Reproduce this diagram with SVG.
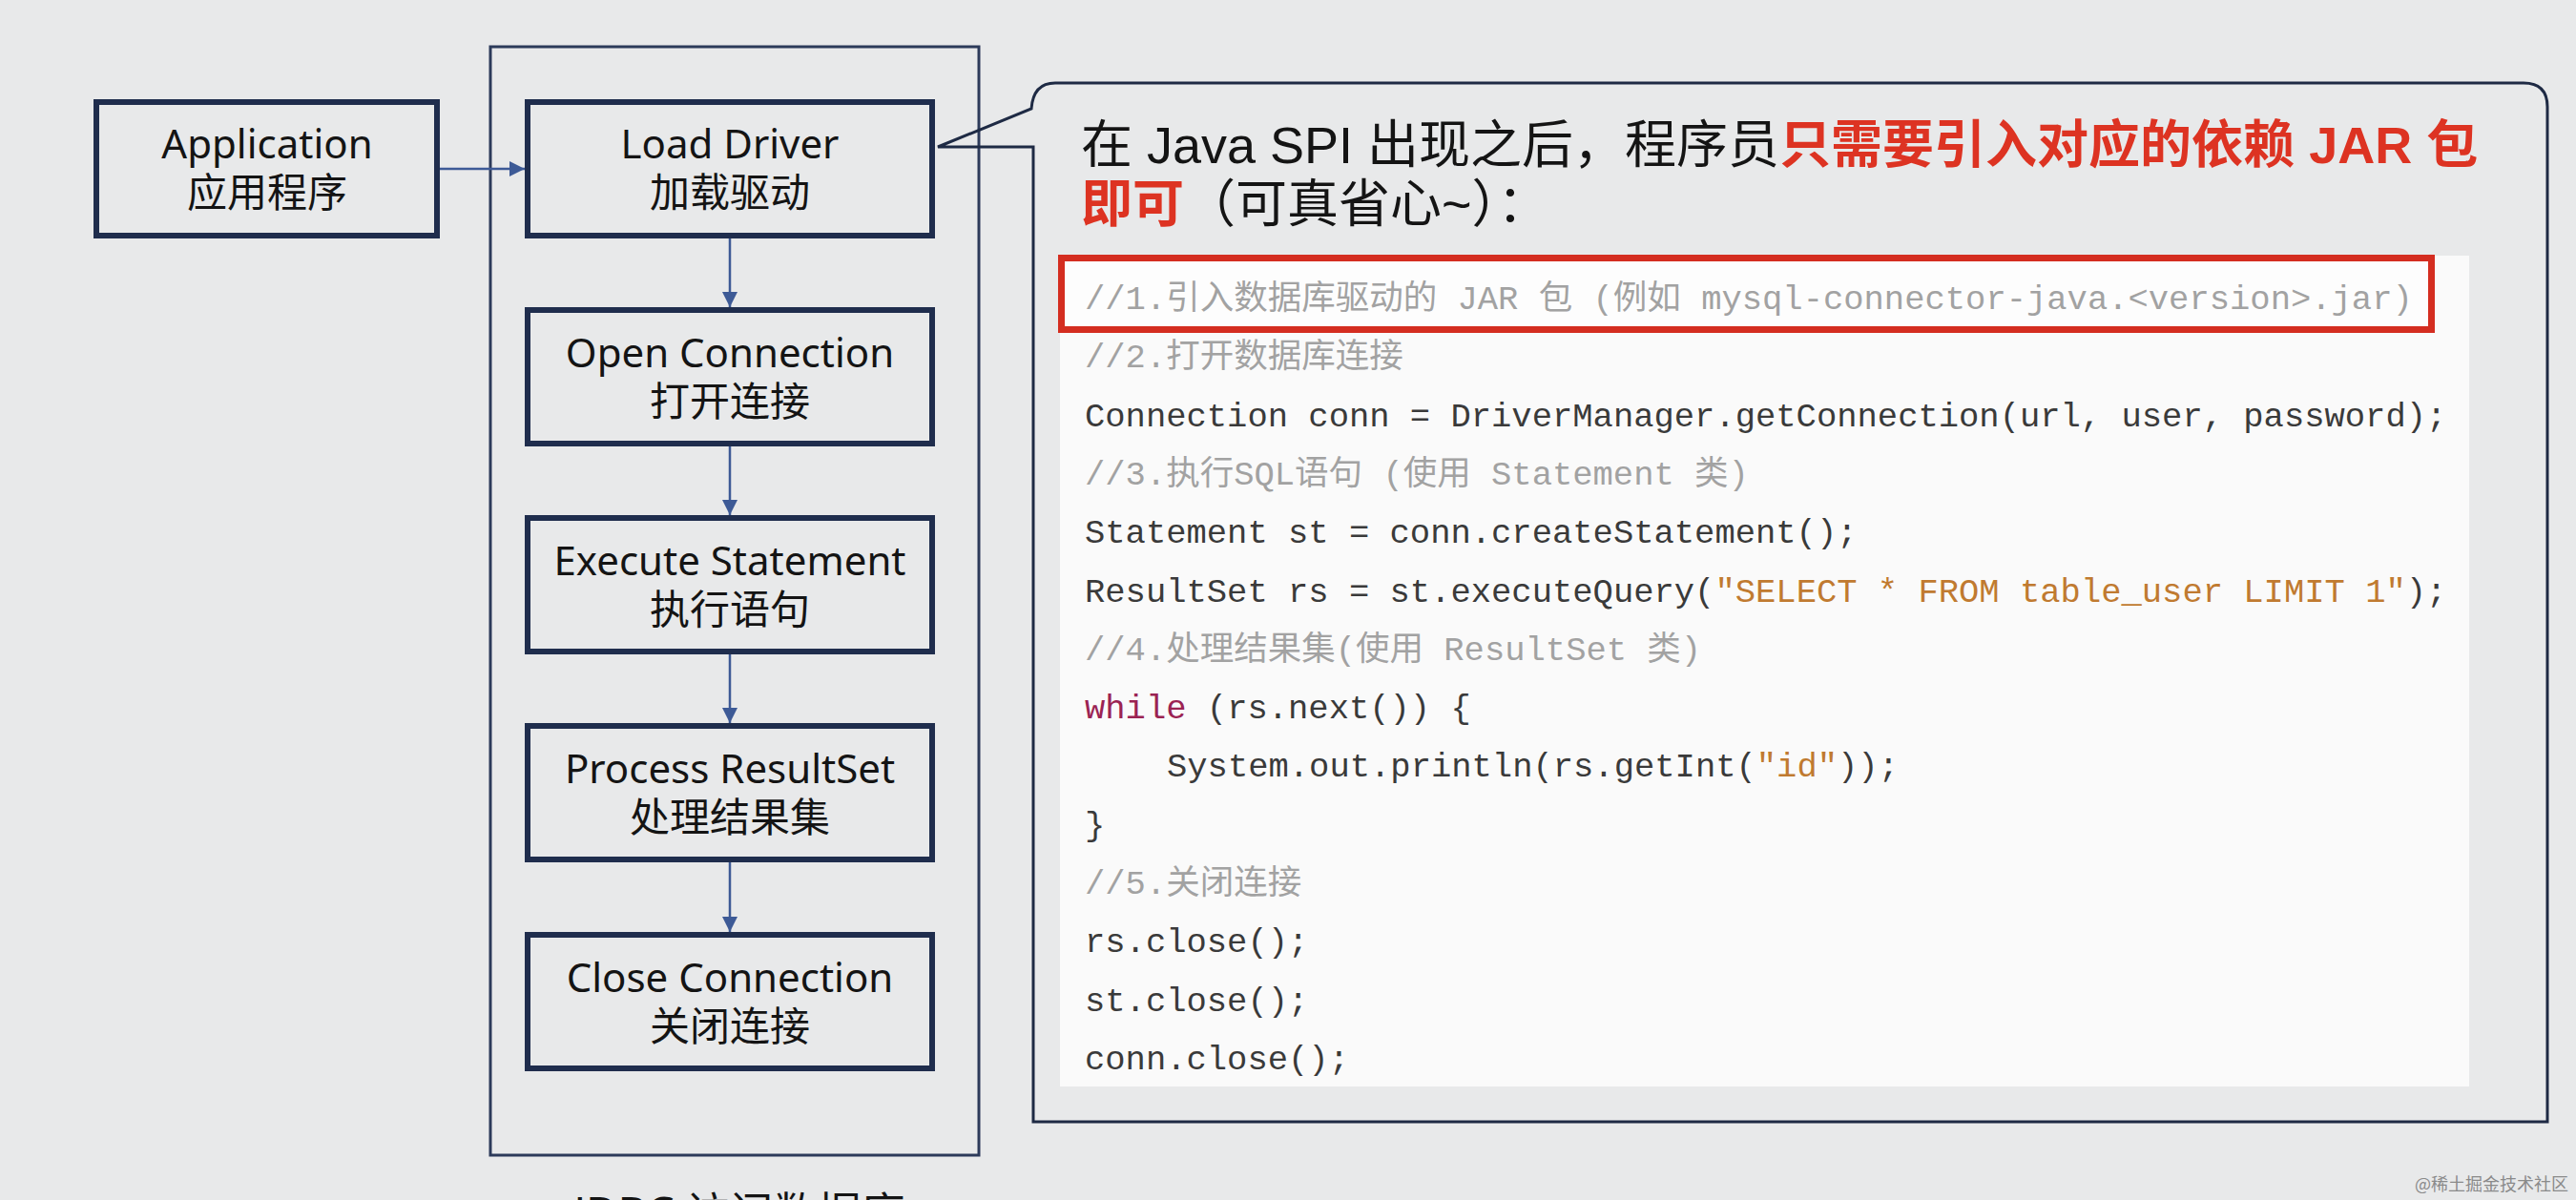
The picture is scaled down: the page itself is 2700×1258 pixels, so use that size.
<svg xmlns="http://www.w3.org/2000/svg" width="2700" height="1258" viewBox="0 0 2700 1258">
  <style>
    .node rect { fill: none; stroke: #1f2d4d; stroke-width: 6; }
    .lbl { font-family: "Noto Sans", "Noto Sans CJK SC", sans-serif; font-size: 42px; fill: #141414; text-anchor: middle; }
    .conn { stroke: #3d5a96; stroke-width: 2.5; fill: none; }
    .title { font-family: "Liberation Sans", "Noto Sans CJK SC", sans-serif; font-size: 54px; fill: #141414; }
    .hl { fill: #dd3322; font-weight: bold; }
    .code { font-family: "Liberation Mono", "Noto Sans CJK SC", monospace; font-size: 35.5px; fill: #3a3a3a; white-space: pre; }
    .cm { fill: #a2a2a2; }
    .kw { fill: #9b2353; }
    .str { fill: #c07a30; }
  </style>
  <defs>
    <marker id="arr" markerUnits="userSpaceOnUse" markerWidth="18" markerHeight="16" refX="16" refY="8" orient="auto">
      <path d="M0,0 L16,8 L0,16 Z" fill="#3d5a96"/>
    </marker>
  </defs>

  <rect x="0" y="0" width="2700" height="1258" fill="#e8e9ea"/>

  <!-- container -->
  <g id="jdbc-container">
    <rect x="514" y="49" width="512" height="1162" fill="none" stroke="#2c3a5a" stroke-width="3"/>
    <text class="lbl" x="775" y="1288" style="font-size:46px">JDBC 访问数据库</text>
  </g>

  <!-- callout -->
  <g id="callout">
    <path d="M1083,154 L983,154 L1081,114 Q1083,87 1106,87 L2645,87 Q2670,87 2670,112 L2670,1176 L1083,1176 Z" fill="none" stroke="#1e2a44" stroke-width="3" stroke-linejoin="miter"/>
    <text class="title" x="1133" y="171">在 Java SPI 出现之后，程序员<tspan class="hl">只需要引入对应的依赖 JAR 包</tspan></text>
    <text class="title" x="1133" y="233"><tspan class="hl">即可</tspan>（可真省心~）：</text>
    <rect x="1111" y="268" width="1477" height="871" fill="#fafafa"/>
    <rect x="1112.5" y="270.5" width="1436" height="75" fill="#fdfdfd" stroke="#d42d20" stroke-width="7"/>
    <text class="code cm" x="1137" y="324">//1.引入数据库驱动的 JAR 包 (例如 mysql-connector-java.&lt;version&gt;.jar)</text>
    <text class="code cm" x="1137" y="385">//2.打开数据库连接</text>
    <text class="code" x="1137" y="447">Connection conn = DriverManager.getConnection(url, user, password);</text>
    <text class="code cm" x="1137" y="508">//3.执行SQL语句 (使用 Statement 类)</text>
    <text class="code" x="1137" y="569">Statement st = conn.createStatement();</text>
    <text class="code" x="1137" y="631">ResultSet rs = st.executeQuery(<tspan class="str">"SELECT * FROM table_user LIMIT 1"</tspan>);</text>
    <text class="code cm" x="1137" y="692">//4.处理结果集(使用 ResultSet 类)</text>
    <text class="code" x="1137" y="753"><tspan class="kw">while</tspan> (rs.next()) {</text>
    <text class="code" x="1223" y="814">System.out.println(rs.getInt(<tspan class="str">"id"</tspan>));</text>
    <text class="code" x="1137" y="876">}</text>
    <text class="code cm" x="1137" y="937">//5.关闭连接</text>
    <text class="code" x="1137" y="998">rs.close();</text>
    <text class="code" x="1137" y="1060">st.close();</text>
    <text class="code" x="1137" y="1121">conn.close();</text>
  </g>

  <g id="application" class="node">
    <rect x="101" y="107" width="357" height="140"/>
    <text class="lbl" x="280" y="166">Application</text>
    <text class="lbl" x="280" y="217">应用程序</text>
  </g>
  <g id="load-driver" class="node">
    <rect x="553" y="107" width="424" height="140"/>
    <text class="lbl" x="765" y="166">Load Driver</text>
    <text class="lbl" x="765" y="217">加载驱动</text>
  </g>
  <g id="open-connection" class="node">
    <rect x="553" y="325" width="424" height="140"/>
    <text class="lbl" x="765" y="385">Open Connection</text>
    <text class="lbl" x="765" y="436">打开连接</text>
  </g>
  <g id="execute-statement" class="node">
    <rect x="553" y="543" width="424" height="140"/>
    <text class="lbl" x="765" y="603">Execute Statement</text>
    <text class="lbl" x="765" y="654">执行语句</text>
  </g>
  <g id="process-resultset" class="node">
    <rect x="553" y="761" width="424" height="140"/>
    <text class="lbl" x="765" y="821">Process ResultSet</text>
    <text class="lbl" x="765" y="872">处理结果集</text>
  </g>
  <g id="close-connection" class="node">
    <rect x="553" y="980" width="424" height="140"/>
    <text class="lbl" x="765" y="1040">Close Connection</text>
    <text class="lbl" x="765" y="1091">关闭连接</text>
  </g>

  <g id="connectors">
    <line class="conn" x1="461" y1="177" x2="550" y2="177" marker-end="url(#arr)"/>
    <line class="conn" x1="765" y1="250" x2="765" y2="322" marker-end="url(#arr)"/>
    <line class="conn" x1="765" y1="468" x2="765" y2="540" marker-end="url(#arr)"/>
    <line class="conn" x1="765" y1="686" x2="765" y2="758" marker-end="url(#arr)"/>
    <line class="conn" x1="765" y1="904" x2="765" y2="977" marker-end="url(#arr)"/>
  </g>

  <text x="2692" y="1248" text-anchor="end" style="font-family:'Noto Sans CJK SC', sans-serif; font-size:18px; fill:#8a8a8a">@稀土掘金技术社区</text>
</svg>
